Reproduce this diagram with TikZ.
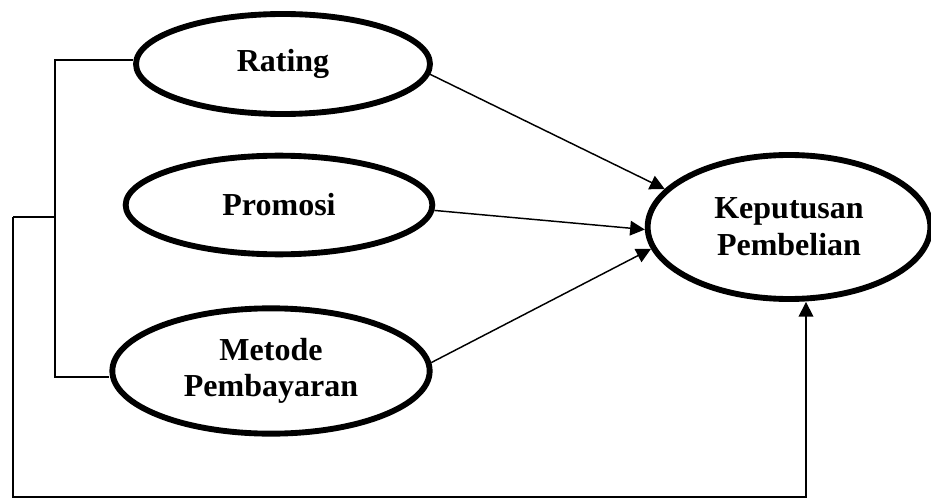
\documentclass[tikz,border=0pt]{standalone}
\usepackage{fontspec}
\setmainfont{Liberation Serif}
\usetikzlibrary{shapes.geometric,arrows.meta}
\begin{document}
\begin{tikzpicture}[x=0.75pt,y=-0.75pt,
  var/.style={ellipse,draw,line width=4.4pt,inner sep=0pt,font=\bfseries\fontsize{24}{27.5}\selectfont,align=center},
  conn/.style={line width=1.1pt,line join=miter},
  arr/.style={conn,-{Triangle[length=11pt,width=11pt]}}]
\useasboundingbox (0,0) rectangle (931,499);
\node[var,minimum width=220.5pt,minimum height=75pt] (rating) at (283,64) {Rating};
\node[var,minimum width=230pt,minimum height=74pt] (promosi) at (279,205) {Promosi};
\node[var,minimum width=238pt,minimum height=94pt] (metode) at (271,371) {Metode\\Pembayaran};
\node[var,minimum width=212pt,minimum height=108pt] (kep) at (789,227) {Keputusan\\Pembelian};
\coordinate (ta) at (55,60);
\coordinate (tb) at (55,377);
\coordinate (mid) at (55,217);
\coordinate (lft) at (13,217);
\coordinate (bl) at (13,497);
\coordinate (br) at (806,497);
\draw[arr] (rating.-4) -- (kep.163);
\draw[arr] (promosi.-2) -- (kep.181);
\draw[arr] (metode.3) -- (kep.189);
\draw[conn] (ta -| rating.west) -- (ta) -- (tb) -- (tb -| metode.west);
\draw[conn] (mid) -- (lft);
\draw[arr] (lft) -- (bl) -- (br) -- (br |- kep.south);
\end{tikzpicture}
\end{document}
